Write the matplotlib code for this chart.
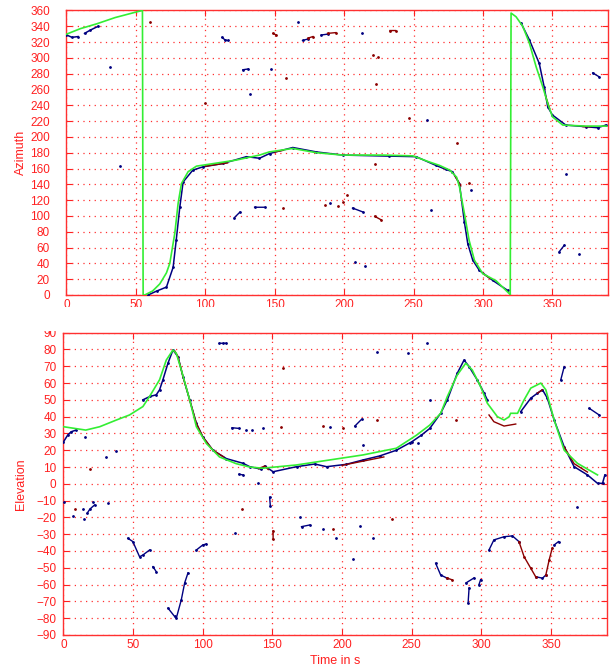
import numpy as np
import matplotlib
matplotlib.use("Agg")
import matplotlib.pyplot as plt
from matplotlib.patches import Rectangle

nan = np.nan

# ---- azimuth (top) ----
green_az_t = [0, 10, 21.6, 35, 49, 54.7, 55.2, 56.4, 62, 67.2, 72, 74.4, 78, 80.4, 82.8, 87.6, 93.6, 103,
              122, 139, 146, 163, 180, 199, 228, 249.5, 261, 268.6, 276, 281, 283, 286.6, 290, 293.8, 299.8,
              309.4, 319, 319.6, 320.2, 323.8, 328.6, 333.4, 338.2, 343, 346.6, 350, 357.4, 374, 389]
green_az = [330, 337, 343, 351, 357.5, 360, 0, 0, 5, 14, 28, 40, 78, 116, 141, 156, 163, 165.5,
            170.6, 177, 181, 185.4, 180, 177, 177, 176, 168.5, 164, 158, 149, 137, 103, 69, 44, 27,
            18, 1.5, 0, 356.7, 352, 340, 318.6, 289, 263.6, 242.5, 225.5, 215, 213.7, 213.7]

track_az_t = [0, 4, 8.4, nan, 13, 17, 22.8, nan,
              58.8, 65, 72, 76.8, 79, 81.6, 84, 91, 98, 112.7, 129.6, 139, 146.3, 163, 180, 199, 232.6,
              251.8, 266, 273.4, 278, 283, 286.6, 289, 292.6, 297.4, 307, 317.8, nan,
              327.4, 333.4, 340.5, 344, 346.6, 350, 359.6, 374, 382.5, 388.5]
track_az = [329, 326, 327, nan, 331, 335, 340, nan,
            0, 5, 10, 35, 69, 111, 143, 158, 162, 166.4, 175, 173, 179, 186.6, 181, 177, 175.7,
            175, 164, 158.8, 156, 141, 92, 65, 44, 31, 18.4, 5.7, nan,
            344, 322.8, 293, 263.6, 238, 227.7, 215, 212.9, 211.6, 215]

red_track_az_t = [100, 108, 116, nan, 150, 156, nan, 280, 284, nan, 300, 305, nan, 345, 348, nan, 372, 378]
red_track_az = [163, 165, 167, nan, 181, 183, nan, 150, 138, nan, 27, 21, nan, 252, 236, nan, 213, 213]

stray_az_blue_t = [31, nan, 38.4, nan, 112, 114, 116, nan, 121, 125, nan, 127, 131, nan, 132, nan,
                   135.5, 142.7, nan, 147.5, nan, 166.7, nan, 170, 174, nan, 183.5, 188, nan, 190, nan,
                   206, 213.5, nan, 207.5, nan, 213, nan, 214.7, nan, 260, nan, 262.7, nan, 291.5, nan,
                   355, 358.6, nan, 369.4, nan, 359.8, nan, 379, 383.7]
stray_az_blue = [289, nan, 163, nan, 326, 323, 322, nan, 98, 105, nan, 285, 286, nan, 254, nan,
                 111, 111, nan, 286, nan, 346, nan, 322, 324, nan, 329, 330, nan, 116.5, nan,
                 110, 105, nan, 41.6, nan, 332, nan, 37, nan, 221, nan, 108, nan, 133.4, nan,
                 55, 63, nan, 52.3, nan, 153.7, nan, 281, 276]

stray_az_red_t = [60, nan, 99.6, nan, 148.7, 151, nan, 157.8, nan, 174, 177.5, nan, 188, 194, nan, 156, nan,
                  186, nan, 195.5, nan, 199, nan, 202, nan, 220.7, nan, 222, 226.7, nan, 223, nan, 224, nan,
                  233, 237, nan, 247, nan, 281, nan, 289.7, nan, 222]
stray_az_red = [346, nan, 242.5, nan, 331, 329, nan, 274, nan, 325, 327, nan, 331, 332, nan, 110, nan,
                113.5, nan, 112, nan, 117.7, nan, 126, nan, 304, nan, 99.5, 95, nan, 266.6, nan, 301, nan,
                334.6, 334.6, nan, 223.5, nan, 191.8, nan, 141.8, nan, 166]

# ---- elevation (bottom) ----
green_el_t = [0, 8, 16, 26, 38, 47.4, 57, 61.8, 69, 73.8, 78.6, 81, 84.6, 90.6, 95.4, 102.6, 112, 124,
              133.7, 143, 167, 191, 215, 239, 253.5, 263, 270.8, 275.6, 282.7, 288.8, 293.5, 299.5,
              304.3, 311.5, 316.3, 320, 321, 326, 330.7, 335.5, 342.7, 346.3, 352.3, 359.5, 369, 383.4]
green_el = [34, 33, 32, 34, 38, 41, 46, 52, 62, 73.7, 79.7, 77.7, 67.8, 50, 34, 24, 16, 12,
            10, 9.3, 11.2, 14.2, 17.2, 21.2, 29, 35, 42, 52, 64.8, 71.8, 67.8, 57.8,
            48, 40, 38, 40, 42, 42, 50, 57, 60, 56, 38, 20, 12.2, 5.3]

track_el_t = [0, 3, 5.5, 9, nan,
              57, 62, 66.6, 69, 71.4, 75, 78.6, 82.2, 85.8, 90.6, 95.4, 100, 107.3, 117, 129, 133.7, 142,
              144.5, 150.5, 167.3, 180.4, 188.9, 203, 215, 227, 239, 250, 257, 263, 270.8, 275.6, 282.7,
              287.6, 291.2, 297.1, 302, 304.3, nan,
              328.3, 335.5, 340.3, 343.9, 347.4, 352.3, 359.5, 366.6, 376.2, 383.4, 387, 388.7]
track_el = [25, 29, 31, 32, nan,
            50, 52, 53, 56, 62, 71.8, 79.7, 75.7, 63.8, 50, 36, 28, 20, 15, 12.2, 10.2, 8.7,
            10.6, 7.2, 10.2, 11.8, 10.2, 11.6, 14.2, 16.6, 20, 25, 29, 33, 42, 50, 65.8,
            73.7, 69.8, 61.8, 54, 50, nan,
            43, 51, 54, 56, 51, 38, 22, 10.2, 5.3, 0.3, 0.3, 5.3]

red_track_el_t = [80, 82.2, 85.8, 90.6, 95.4, 100, 107.3, 115, nan, 140, 144.5, 147, nan, 200, 230, nan,
                  305.5, 309, 316.3, 324.7, nan, 340.3, 343.9, nan, 359.5, 366.6, 376.2]
red_track_el = [79, 75.7, 63.8, 50, 36, 28, 20, 16, nan, 9, 10.6, 8.5, nan, 11, 16, nan,
                41, 37, 34.4, 35.6, nan, 54, 56, nan, 22, 12, 7]

stray_el_blue_t = [15.8, nan, 30.7, nan, 37.9, nan, 0.7, nan, 6.7, nan, 13.9, nan, 14.4, nan, 17, 19, 22.3, nan,
                   21, nan, 31.8, nan, 46.2, 49.8, 54.6, 57, 61.8, nan, 64.2, 66.6, nan,
                   75, 79.8, 81, 84.6, 87, 89.4, nan, 112, 114.5, 117, nan, 121, 126, nan, 131, nan,
                   126, 129, nan, 95.4, 100, 102.6, nan, 123, nan, 135, nan, 143, nan, 139.7, nan,
                   148, 148.5, nan, 169.7, nan, 170.9, 176.8, nan, 186.4, nan, 196, nan, 212.8, nan, 222.4, nan,
                   208, nan, 191, nan, 209.2, 214, nan, 215, nan, 260.8, nan, 247.5, nan, 224.8, nan, 263, nan,
                   248.7, nan, 254.7, nan, 357, 359.5, nan, 377.4, 384.6, nan, 369, nan,
                   267.2, 270.8, 275, nan, 289, 294.8, nan, 290.5, 291.2, nan, 298.3, 299.5, nan,
                   305.5, 309, 316.3, 322.3, 327, nan, 339, 343.9, 346.3, nan, 352.3, 355.4]
stray_el_blue = [28, nan, 16, nan, 19.6, nan, -11, nan, -19, nan, -15, nan, -21, nan, -17.5, -15, -12.6, nan,
                 -10.6, nan, -11.6, nan, -32.4, -34.4, -43.4, -42.4, -39.4, nan, -49.3, -52.3, nan,
                 -74, -79, -80, -69, -59, -53, nan, 83.7, 83.7, 83.7, nan, 33.4, 33, nan, 32, nan,
                 5.7, 5.3, nan, -39.4, -36.4, -35.8, nan, -29.4, nan, 32, nan, 33, nan, 0.3, nan,
                 -8, -13, nan, -20, nan, -25.5, -24.5, nan, -27, nan, -32.4, nan, -25, nan, -32.4, nan,
                 -45, nan, 33.7, nan, 34.4, 38.4, nan, 23, nan, 83.7, nan, 77.7, nan, 78.7, nan, 50, nan,
                 24.5, nan, 24.5, nan, 61.8, 69.8, nan, 45, 41, nan, -13.6, nan,
                 -47.3, -54.3, -56, nan, -59, -56, nan, -71, -62, nan, -60, -57, nan,
                 -39.4, -33.4, -31.5, -31, -34.4, nan, -55.3, -56.2, -54.3, nan, -36.4, -34.4]

stray_el_red_t = [19, nan, 8, nan, 157.6, nan, 156.5, nan, 186.4, nan, 200.8, nan, 224.8, nan, 128.4, nan,
                  150.5, 150.5, nan, 193.6, nan, 235.6, nan, 281.6, nan, 275, 279.2, nan,
                  327, 330.7, 335.5, 339, nan, 346.3, 348.7, 351]
stray_el_red = [8.7, nan, -15, nan, 68.8, nan, 34, nan, 34.4, nan, 33.1, nan, 38, nan, -15, nan,
                -28, -33, nan, -27, nan, -21, nan, 38, nan, -56, -57.2, nan,
                -34.4, -43.4, -50.3, -55.3, nan, -54.3, -45.3, -38]

fig = plt.figure(figsize=(6.14, 6.71), dpi=100)
ax1 = fig.add_axes([0.1083, 0.5604, 0.8819, 0.424])
ax2 = fig.add_axes([0.1034, 0.0537, 0.8847, 0.4505])

fam = ['Liberation Sans Narrow', 'Liberation Sans', 'DejaVu Sans']
green = '#33ee33'
navy = '#000080'
dred = '#8b0000'

def style(ax, ylo, yhi, ystep, pad):
    ax.set_xlim(0, 390)
    ax.set_ylim(ylo, yhi)
    ax.set_xticks(np.arange(0, 351, 50))
    ax.set_yticks(np.arange(ylo, yhi + 1, ystep))
    ax.grid(True, color='#ff3030', linestyle=(0, (1, 3.5)), linewidth=0.9)
    ax.set_axisbelow(True)
    ax.tick_params(direction='in', length=4, top=True, right=True, colors='#ff2020',
                   labelsize=8.5, width=0.8)
    ax.tick_params(axis='y', pad=pad)
    ax.tick_params(axis='x', pad=3)
    for s in ax.spines.values():
        s.set_color('#ff3030')
        s.set_linewidth(1.0)
    for lab in ax.get_xticklabels() + ax.get_yticklabels():
        lab.set_family(fam)

# top: azimuth
ax1.plot(track_az_t, track_az, '-', color=navy, lw=1.1, marker='.', ms=2, zorder=3)
ax1.plot(red_track_az_t, red_track_az, '-', color=dred, lw=1.0, zorder=3)
ax1.plot(stray_az_blue_t, stray_az_blue, '-', color=navy, lw=1.0, marker='.', ms=2, zorder=3)
ax1.plot(stray_az_red_t, stray_az_red, '-', color=dred, lw=1.0, marker='.', ms=2, zorder=3)
ax1.plot(green_az_t, green_az, '-', color=green, lw=1.2, zorder=4)
style(ax1, 0, 360, 20, 12)
ax1.set_ylabel('Azimuth', color='#ff2020', fontsize=9, family=fam)
ax1.yaxis.set_label_coords(-0.073, 0.5)

# bottom: elevation
ax2.plot(track_el_t, track_el, '-', color=navy, lw=1.1, marker='.', ms=2, zorder=3)
ax2.plot(red_track_el_t, red_track_el, '-', color=dred, lw=1.0, zorder=3)
ax2.plot(stray_el_blue_t, stray_el_blue, '-', color=navy, lw=1.0, marker='.', ms=2, zorder=3)
ax2.plot(stray_el_red_t, stray_el_red, '-', color=dred, lw=1.0, marker='.', ms=2, zorder=3)
ax2.plot(green_el_t, green_el, '-', color=green, lw=1.2, zorder=4)
style(ax2, -90, 90, 10, 5)
ax2.set_ylabel('Elevation', color='#ff2020', fontsize=9, family=fam)
ax2.yaxis.set_label_coords(-0.067, 0.5)
ax2.set_xlabel('Time in s', color='#ff2020', fontsize=9, family=fam)
ax2.xaxis.set_label_coords(0.5, -0.066)

# the upper x tick labels are half hidden in the original
fig.add_artist(Rectangle((0, 1 - 331.0 / 671), 1, (331.0 - 306.7) / 671,
                         transform=fig.transFigure, facecolor='white', edgecolor='none', zorder=5))

fig.savefig('out.png', dpi=100)
